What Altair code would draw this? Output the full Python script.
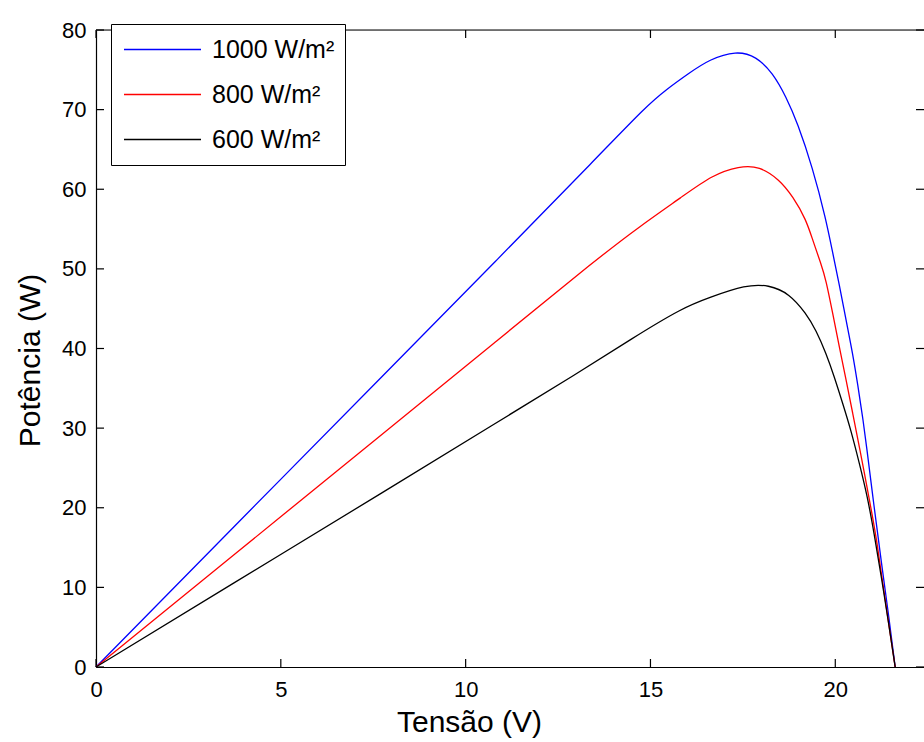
import altair as alt
import pandas as pd

FONT = "Liberation Sans"

# Series (Tensão V, Potência W)
v_1000 = [0, 3.6, 8, 10.8, 13.62, 14.88, 15.42, 16.05, 16.59, 17.32, 17.86, 18.31, 18.67, 18.98,
          19.38, 19.75, 19.93, 20.11, 20.29, 20.47, 20.61, 20.74, 20.83, 21.05, 21.25, 21.45, 21.62]
p_1000 = [0, 17.0, 37.7, 50.9, 64.3, 70.4, 72.5, 74.6, 76.3, 77.4, 76.7, 74.6, 71.6, 68.3,
          62.8, 56.2, 52.0, 48.0, 43.6, 39.4, 35.4, 31.4, 28.3, 20.1, 13.0, 6.3, 0]

v_800 = [0, 3.6, 8, 10.8, 13.62, 14.7, 15.87, 16.68, 17.4, 17.95, 18.49, 18.85, 19.21, 19.39,
         19.61, 19.75, 19.93, 20.11, 20.29, 20.47, 20.65, 20.96, 21.12, 21.3, 21.5, 21.62]
p_800 = [0, 13.6, 30.2, 40.8, 51.5, 55.3, 59.1, 61.8, 62.9, 62.9, 61.2, 59.1, 56.2, 53.6,
         50.7, 48.6, 44.4, 40.2, 36.1, 31.9, 27.7, 20.1, 16.0, 10.0, 3.7, 0]

v_600 = [0, 3.6, 8, 10.8, 13, 14.51, 15.86, 16.59, 17.58, 18.2, 18.76, 19.21, 19.48, 19.75,
         19.97, 20.2, 20.42, 20.65, 20.87, 21.05, 21.25, 21.45, 21.62]
p_600 = [0, 10.2, 22.6, 30.6, 36.8, 41.3, 45.1, 46.4, 48.0, 48.0, 46.9, 44.4, 42.3, 39.4,
         36.5, 33.1, 29.8, 25.6, 21.4, 16.8, 11.2, 5.3, 0]

series_names = ["1000 W/m²", "800 W/m²", "600 W/m²"]
series_colors = ["#0000FF", "#FF0000", "#000000"]

x_ticks = [0, 5, 10, 15, 20]
y_ticks = [0, 10, 20, 30, 40, 50, 60, 70, 80]

X_DOMAIN = [0, 22.4]
Y_DOMAIN = [0, 80]
W, H = 828, 637
TICK = 8

rows = []
for name, vs, ps in zip(series_names, [v_1000, v_800, v_600], [p_1000, p_800, p_600]):
    for i, (v, p) in enumerate(zip(vs, ps)):
        rows.append({"serie": name, "V": v, "P": p, "ord": i})
df = pd.DataFrame(rows)

xscale = alt.Scale(domain=X_DOMAIN, nice=False, zero=False)
yscale = alt.Scale(domain=Y_DOMAIN, nice=False, zero=False)

x_axis = alt.Axis(values=x_ticks, title="Tensão (V)", ticks=False, labelFlush=False,
                  grid=False, domainColor="black", domainWidth=1.2,
                  labelFontSize=22, labelColor="black", labelPadding=12,
                  titleFontSize=30, titleFontWeight="normal", titleColor="black",
                  titleX=373, titleAlign="center", titlePadding=7)
y_axis = alt.Axis(values=y_ticks, title="Potência (W)", ticks=False, labelFlush=False,
                  grid=False, domainColor="black", domainWidth=1.2,
                  labelFontSize=22, labelColor="black", labelPadding=10,
                  titleFontSize=30, titleFontWeight="normal", titleColor="black",
                  titleY=330, titleAlign="center", titlePadding=16)

lines = alt.Chart(df).mark_line(strokeWidth=1.3, interpolate="basis").encode(
    x=alt.X("V:Q", scale=xscale, axis=x_axis),
    y=alt.Y("P:Q", scale=yscale, axis=y_axis),
    color=alt.Color("serie:N",
                    scale=alt.Scale(domain=series_names, range=series_colors),
                    legend=alt.Legend(title=None, orient="none", legendX=15, legendY=-6,
                                      symbolType="stroke", symbolSize=77 * 77,
                                      symbolStrokeWidth=1.3, symbolOffset=2,
                                      clipHeight=31, rowPadding=14,
                                      labelFontSize=25, labelColor="black", labelOffset=10,
                                      padding=10, strokeColor="black", fillColor="white",
                                      cornerRadius=0)),
    detail="serie:N",
    order="ord:Q",
)

xt = pd.DataFrame({"V": x_ticks})
yt = pd.DataFrame({"P": y_ticks})

bottom_ticks = alt.Chart(xt).mark_rule(color="black", strokeWidth=1.2).encode(
    x=alt.X("V:Q", scale=xscale, axis=x_axis), y=alt.value(H), y2=alt.value(H - TICK))
top_ticks = alt.Chart(xt).mark_rule(color="black", strokeWidth=1.2).encode(
    x=alt.X("V:Q", scale=xscale, axis=x_axis), y=alt.value(0), y2=alt.value(TICK))
left_ticks = alt.Chart(yt).mark_rule(color="black", strokeWidth=1.2).encode(
    y=alt.Y("P:Q", scale=yscale, axis=y_axis), x=alt.value(0), x2=alt.value(TICK))
right_ticks = alt.Chart(yt).mark_rule(color="black", strokeWidth=1.2).encode(
    y=alt.Y("P:Q", scale=yscale, axis=y_axis), x=alt.value(W), x2=alt.value(W - TICK))
top_border = alt.Chart(pd.DataFrame({"a": [0]})).mark_rule(color="black", strokeWidth=1.2).encode(
    x=alt.value(0), x2=alt.value(W), y=alt.value(0))

chart = alt.layer(lines, bottom_ticks, top_ticks, left_ticks, right_ticks, top_border).properties(
    width=W, height=H,
    autosize=alt.AutoSizeParams(type="none"),
    padding={"left": 96, "top": 30, "right": 0, "bottom": 75},
).configure_view(stroke=None).configure(font=FONT, background="white")

chart.save("out.html", embed_options={"renderer": "svg", "actions": False})
